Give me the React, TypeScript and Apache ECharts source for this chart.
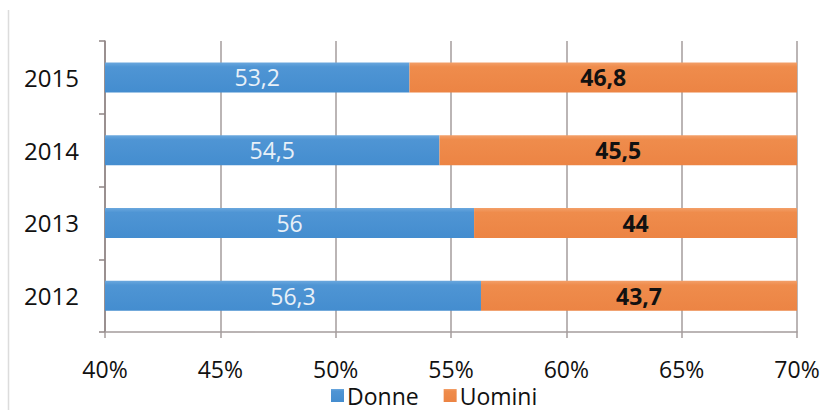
import React, { useEffect, useRef } from "react";
import * as echarts from "echarts";

const years = ["2012", "2013", "2014", "2015"];
const donne = [56.3, 56, 54.5, 53.2];
const uomini = [43.7, 44, 45.5, 46.8];
const xTicks = { min: 40, max: 70, interval: 5 };

const FONT = "Open Sans";
const fmt = (v: number) => String(v).replace(".", ",");

export default function App() {
  const ref = useRef<HTMLDivElement>(null);
  useEffect(() => {
    if (!ref.current) return;
    const chart = echarts.init(ref.current, undefined, { renderer: "svg" });
    const gridColor = "#a49c9c";
    chart.setOption({
      animation: false,
      backgroundColor: "#ffffff",
      textStyle: { fontFamily: FONT },
      grid: { left: 105, right: 26, top: 41, bottom: 78, containLabel: false },
      legend: {
        bottom: -2,
        left: 326,
        itemWidth: 13,
        itemHeight: 13,
        itemGap: 25,
        icon: "rect",
        textStyle: { fontFamily: FONT, fontSize: 23, color: "#111", padding: [0, 0, 0, -2] },
        data: ["Donne", "Uomini"],
      },
      xAxis: {
        type: "value",
        min: xTicks.min,
        max: xTicks.max,
        interval: xTicks.interval,
        axisLine: { show: true, lineStyle: { color: gridColor, width: 1.5 } },
        axisTick: { show: true, length: 6, lineStyle: { color: gridColor, width: 1.5 } },
        splitLine: { show: true, lineStyle: { color: gridColor, width: 1.5 } },
        axisLabel: {
          formatter: "{value}%",
          fontFamily: FONT,
          fontSize: 23,
          color: "#111",
          margin: 25,
        },
      },
      yAxis: {
        type: "category",
        data: years,
        axisLine: { show: true, lineStyle: { color: "#8f8585", width: 1.5 } },
        axisTick: { show: true, length: 6, lineStyle: { color: "#8f8585", width: 1.5 } },
        axisLabel: { fontFamily: FONT, fontSize: 24, color: "#111", margin: 26 },
      },
      series: [
        {
          name: "Donne",
          type: "bar",
          stack: "tot",
          barWidth: 30,
          clip: true,
          data: donne,
          itemStyle: {
            color: new echarts.graphic.LinearGradient(0, 0, 0, 1, [
              { offset: 0, color: "#6ba8de" },
              { offset: 0.15, color: "#4f95d4" },
              { offset: 1, color: "#448dcf" },
            ]),
          },
          label: {
            show: true,
            position: "inside",
            color: "#e8f0f8",
            fontFamily: FONT,
            fontSize: 23,
            formatter: (p: any) => fmt(p.value),
          },
        },
        {
          name: "Uomini",
          type: "bar",
          stack: "tot",
          barWidth: 30,
          clip: true,
          data: uomini,
          itemStyle: {
            color: new echarts.graphic.LinearGradient(0, 0, 0, 1, [
              { offset: 0, color: "#f3a06a" },
              { offset: 0.15, color: "#ef8c4c" },
              { offset: 1, color: "#ec8444" },
            ]),
          },
          label: {
            show: true,
            position: "inside",
            color: "#111",
            fontWeight: "bold",
            fontFamily: FONT,
            fontSize: 23,
            formatter: (p: any) => fmt(p.value),
          },
        },
      ],
      graphic: [
        {
          type: "line",
          shape: { x1: 8.5, y1: 10, x2: 8.5, y2: 410 },
          style: { stroke: "#dcdcdc", lineWidth: 1.5 },
        },
      ],
    });
    return () => chart.dispose();
  }, []);
  return (
    <div
      ref={ref}
      style={{ position: "fixed", left: 0, top: 0, width: 823, height: 410 }}
    />
  );
}
